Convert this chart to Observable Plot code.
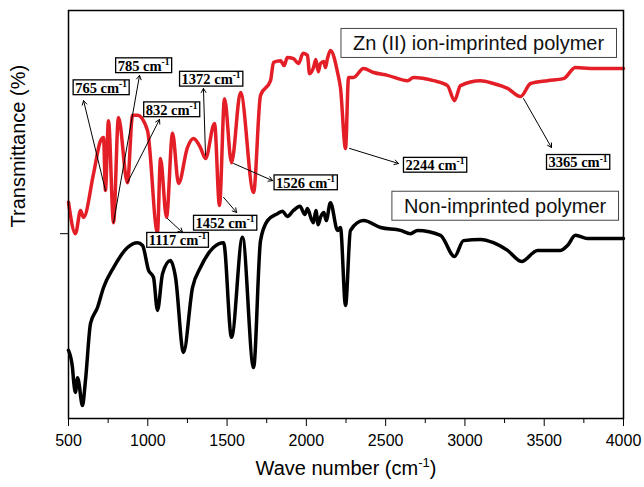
<!DOCTYPE html>
<html><head><meta charset="utf-8">
<script src="https://cdn.jsdelivr.net/npm/d3@7"></script>
<script src="https://cdn.jsdelivr.net/npm/@observablehq/plot@0.6"></script>
<style>body{margin:0;background:#fff}</style>
</head><body><div id="chart"></div>
<script>
// Zn(II) ion-imprinted polymer (red)
const iipWavenumber = [500,544,576,595,658,702,721,733,752,784,815,872,904,935,998,1061,1080,1118,1156,1194,1250,1288,1332,1364,1421,1452,1484,1528,1585,1667,1711,1774,1793,1837,1860,1880,1919,1950,1980,2007,2020,2045,2060,2075,2089,2110,2120,2133,2152,2197,2215,2247,2266,2297,2360,2424,2512,2638,2676,2802,2890,2934,2972,3098,3180,3269,3351,3414,3521,3622,3697,3792,4000];
const iipTransmittance = [53,45.3,51,49.3,60,68.1,68.9,55.9,73,48,73.8,57.8,74.3,74.3,70.6,45.6,63.7,49.3,69.9,57.6,66.4,68.6,66.4,63.7,72.3,52.2,78.4,62.7,79.9,55.4,79.2,82.8,87.3,87.7,86.5,88.5,88.2,87,89.5,89,84.5,86,88,85,87,87.5,86,88.2,90.2,84.8,81.1,66.2,83.6,83.6,85.8,84.8,84.1,82.8,83.6,82.8,81.6,77.9,81.6,82.8,82.1,80.9,78.9,82.1,82.8,83.3,86,85.8,85.8];
// Non-imprinted polymer (black)
const nipWavenumber = [500,525,532,544,557,563,588,607,639,683,721,784,872,935,967,1005,1036,1061,1093,1143,1175,1225,1282,1332,1414,1478,1528,1597,1667,1711,1755,1818,1850,1880,1919,1960,1990,2007,2030,2045,2060,2075,2089,2110,2125,2152,2197,2215,2247,2278,2360,2468,2594,2657,2701,2846,2934,2991,3098,3180,3269,3357,3458,3603,3647,3697,3773,4000];
const nipTransmittance = [16.7,12.5,9.3,6.4,10,9.3,3.2,9.3,23.3,27.2,32.1,37,41.9,43.1,42.4,36.3,34.6,26.5,35.5,38.7,34.6,16.2,32.1,37,41.9,43.1,19.9,44.4,12.5,43.6,48.5,50.2,50.8,49.5,51,52,50,51.5,49,48,51,47.5,49.3,50.5,48.5,52.9,46.1,46.8,27.7,46.1,48.5,46.8,46.1,45.3,46.1,44.9,39.7,43.6,43.9,43.1,41.2,38.5,41.2,41.2,42.4,44.9,44.1,44.1];

// Peak annotations
const peakLabel = ["765 cm-1","785 cm-1","832 cm-1","1372 cm-1","1526 cm-1","1452 cm-1","1117 cm-1","2244 cm-1","3365 cm-1"];
const peakLabelX = [705,973,1150,1399,1995,1487,1187,2811,3713];
const peakLabelY = [81.0,86.4,75.6,83.1,57.7,47.8,43.6,62.0,62.7];
const peakFromX = [733,784,872,1364,1541,1478,1124,2272,3370];
const peakFromY = [55.9,48.0,57.8,64.5,62.5,54.2,49.0,66.2,78.4];
const peakToX = [595,948,1074,1351,1787,1560,1219,2581,3546];
const peakToY = [77.9,84.1,73.3,80.9,58.3,50.5,45.6,62.5,66.4];

const seriesName = ["Zn (II) ion-imprinted polymer","Non-imprinted polymer"];
const seriesNameX = [3086,3253];
const seriesNameY = [91.9,52.0];

const xTicks = [500,1000,1500,2000,2500,3000,3500,4000];
const xMinorTicks = [750,1250,1750,2250,2750,3250,3750];
const yTicks = [45.3];

const idx = (a) => a.map((_, i) => i);

const svg = Plot.plot({
  width: 644, height: 487,
  marginLeft: 68, marginRight: 21, marginTop: 10, marginBottom: 69,
  style: {fontFamily: "'Liberation Sans', Arial, sans-serif", fontSize: "16px", background: "#fff", color: "#000"},
  x: {domain: [500, 4000]},
  y: {domain: [0, 100]},
  marks: [
    Plot.line(iipWavenumber, {x: iipWavenumber, y: iipTransmittance, stroke: "#e41e26", strokeWidth: 3.5, curve: "monotone-x"}),
    Plot.line(nipWavenumber, {x: nipWavenumber, y: nipTransmittance, stroke: "#000", strokeWidth: 3.5, curve: "monotone-x"}),
    Plot.arrow(idx(peakLabel), {x1: i => peakFromX[i], y1: i => peakFromY[i], x2: i => peakToX[i], y2: i => peakToY[i], stroke: "#000", strokeWidth: 1, headLength: 7}),
    Plot.text(idx(peakLabel), {x: i => peakLabelX[i], y: i => peakLabelY[i], text: i => peakLabel[i], fontFamily: "'Liberation Serif', 'Times New Roman', serif", fontWeight: "bold", fontSize: 14.5, fill: "#000", className: "peak-label"}),
    Plot.text(idx(seriesName), {x: i => seriesNameX[i], y: i => seriesNameY[i], text: i => seriesName[i], fontSize: 20, fill: "#111", className: "series-label"}),
    Plot.axisX({ticks: xTicks, tickSize: 8, tickPadding: 8, fontSize: 16, label: null, tickFormat: d => String(d)}),
    Plot.axisX({ticks: xMinorTicks, tickSize: 5, label: null, tickFormat: () => ""}),
    Plot.axisY({ticks: yTicks, tickSize: 8, label: null, tickFormat: () => ""}),
    Plot.text(["Wave number (cm-1)"], {frameAnchor: "bottom", text: d => d, dy: 56, fontSize: 20, className: "axis-title"}),
    Plot.text(["Transmittance (%)"], {frameAnchor: "left", text: d => d, rotate: -90, dx: -50, dy: 13, fontSize: 20, className: "axis-title"}),
    Plot.frame({stroke: "#000", strokeWidth: 1.5})
  ]
});
document.getElementById("chart").append(svg);

const ns = "http://www.w3.org/2000/svg";
function boxify(sel, padX, padY, stroke, sw) {
  svg.querySelectorAll(sel + " text").forEach(t => {
    const bb = t.getBBox();
    const r = document.createElementNS(ns, "rect");
    r.setAttribute("x", bb.x - padX);
    r.setAttribute("y", bb.y - padY);
    r.setAttribute("width", bb.width + 2 * padX);
    r.setAttribute("height", bb.height + 2 * padY);
    r.setAttribute("fill", "#fff");
    r.setAttribute("stroke", stroke);
    r.setAttribute("stroke-width", sw);
    if (t.getAttribute("transform")) r.setAttribute("transform", t.getAttribute("transform"));
    t.parentNode.insertBefore(r, t);
  });
}
function supify(el) {
  const s = el.textContent;
  const m = s.match(/^(.*)-1(\)?)$/);
  if (!m) return;
  const fs = parseFloat(getComputedStyle(el).fontSize);
  const shift = fs * 0.4;
  el.textContent = "";
  const a = document.createElementNS(ns, "tspan"); a.textContent = m[1];
  const b = document.createElementNS(ns, "tspan"); b.textContent = "-1";
  b.setAttribute("font-size", (fs * 0.65) + "px"); b.setAttribute("dy", -shift);
  el.append(a, b);
  if (m[2]) {
    const c = document.createElementNS(ns, "tspan"); c.textContent = m[2];
    c.setAttribute("dy", shift); el.append(c);
  }
}
svg.querySelectorAll("g.peak-label text, g.axis-title text").forEach(supify);
boxify("g.peak-label", 2, -1, "#000", 1.3);
boxify("g.series-label", 12, 3.5, "#444", 1);
</script></body></html>
